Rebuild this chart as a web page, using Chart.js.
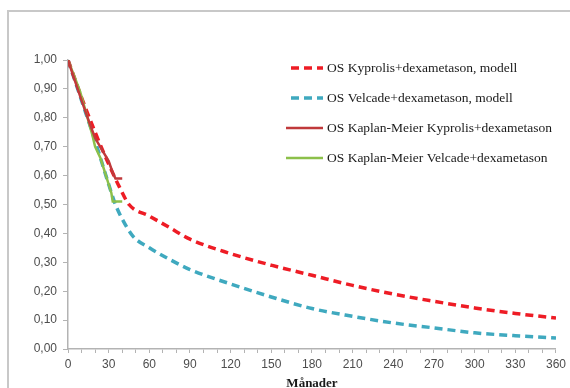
<!DOCTYPE html>
<html lang="sv">
<head>
  <meta charset="UTF-8" />
  <title>OS modell vs Kaplan-Meier</title>
  <script src="https://cdn.jsdelivr.net/npm/chart.js"></script>
  <style>
    body { margin: 0; background: #fff; }
    .chart-container { position: relative; width: 570px; height: 388px; }
  </style>
</head>
<body>
  <div class="chart-container">
    <canvas id="osChart"></canvas>
  </div>

  <script>
    // Months (x) and survival (y)
    const kyprolisModelMonths = [0, 10, 20, 30, 38, 45, 60, 75, 90, 120, 150, 180, 210, 240, 270, 300, 330, 360];
    const kyprolisModel = [1.00, 0.87, 0.75, 0.64, 0.56, 0.50, 0.46, 0.42, 0.38, 0.33, 0.29, 0.255, 0.22, 0.19, 0.165, 0.142, 0.123, 0.107];

    const velcadeModelMonths = [0, 10, 20, 30, 35, 40, 48, 60, 75, 90, 120, 150, 180, 210, 240, 270, 300, 330, 360];
    const velcadeModel = [1.00, 0.86, 0.72, 0.57, 0.50, 0.45, 0.39, 0.35, 0.31, 0.275, 0.225, 0.18, 0.14, 0.113, 0.09, 0.073, 0.056, 0.046, 0.038];

    const kyprolisKMMonths = [0, 5, 10, 16, 20, 25, 30, 33, 35, 40];
    const kyprolisKM = [1.00, 0.93, 0.86, 0.78, 0.73, 0.69, 0.65, 0.61, 0.59, 0.59];

    const velcadeKMMonths = [0, 5, 9, 12, 15, 18, 20, 24, 28, 32, 33, 40];
    const velcadeKM = [1.00, 0.94, 0.89, 0.84, 0.79, 0.74, 0.70, 0.66, 0.60, 0.54, 0.51, 0.51];

    const seriesLabels = [
      'OS Kyprolis+dexametason, modell',
      'OS Velcade+dexametason, modell',
      'OS Kaplan-Meier Kyprolis+dexametason',
      'OS Kaplan-Meier Velcade+dexametason'
    ];
    const xTicksStep = 30;
    const yTicksStep = 0.1;

    function toPoints(xs, ys) {
      return xs.map((x, i) => ({ x: x, y: ys[i] }));
    }

    // grey frame + legend drawn on the canvas
    const framePlugin = {
      id: 'frame',
      beforeDraw(chart) {
        const ctx = chart.ctx;
        ctx.save();
        ctx.strokeStyle = '#c8c8c8';
        ctx.lineWidth = 2;
        ctx.beginPath();
        ctx.moveTo(8, chart.height);
        ctx.lineTo(8, 11);
        ctx.lineTo(chart.width, 11);
        ctx.stroke();
        ctx.restore();
      },
      afterDraw(chart) {
        const ctx = chart.ctx;
        ctx.save();
        ctx.font = '13.5px "Liberation Serif"';
        ctx.fillStyle = '#1a1a1a';
        ctx.textBaseline = 'middle';
        chart.data.datasets.forEach((ds, i) => {
          const y = 68 + i * 30;
          ctx.strokeStyle = ds.borderColor;
          ctx.lineWidth = ds.borderWidth;
          ctx.setLineDash(ds.borderDash || []);
          ctx.beginPath();
          ctx.moveTo(i < 2 ? 291 : 286, y);
          ctx.lineTo(323, y);
          ctx.stroke();
          ctx.setLineDash([]);
          ctx.fillText(ds.label, 327, y);
        });
        ctx.restore();
      }
    };

    const ctx = document.getElementById('osChart').getContext('2d');
    new Chart(ctx, {
      type: 'line',
      data: {
        datasets: [
          {
            label: seriesLabels[0],
            data: toPoints(kyprolisModelMonths, kyprolisModel),
            borderColor: '#ee1c25',
            borderWidth: 3.5,
            borderDash: [8, 5],
            cubicInterpolationMode: 'monotone',
            pointRadius: 0,
            order: 3
          },
          {
            label: seriesLabels[1],
            data: toPoints(velcadeModelMonths, velcadeModel),
            borderColor: '#3fa9bf',
            borderWidth: 3.5,
            borderDash: [8, 5],
            cubicInterpolationMode: 'monotone',
            pointRadius: 0,
            order: 4
          },
          {
            label: seriesLabels[2],
            data: toPoints(kyprolisKMMonths, kyprolisKM),
            borderColor: '#c0393b',
            borderWidth: 2.5,
            pointRadius: 0,
            order: 1
          },
          {
            label: seriesLabels[3],
            data: toPoints(velcadeKMMonths, velcadeKM),
            borderColor: '#8cc04a',
            borderWidth: 2.5,
            pointRadius: 0,
            order: 2
          }
        ]
      },
      options: {
        responsive: true,
        maintainAspectRatio: false,
        animation: false,
        layout: { padding: { left: 0, top: 60, right: 13, bottom: 0 } },
        plugins: { legend: { display: false }, tooltip: { enabled: false } },
        scales: {
          x: {
            type: 'linear',
            min: 0,
            max: 360,
            afterFit(scale) { scale.height = 39; },
            border: { color: '#b3b3b3', width: 1.5 },
            grid: { drawOnChartArea: false, drawTicks: true, tickLength: 4, color: '#b3b3b3' },
            ticks: {
              stepSize: 10,
              autoSkip: false,
              maxRotation: 0,
              padding: 4,
              color: '#4d4d4d',
              font: { family: 'Liberation Sans', size: 12 },
              callback: v => (v % xTicksStep === 0 ? String(v) : '')
            },
            title: {
              display: true,
              text: 'Månader',
              color: '#1a1a1a',
              padding: { top: 0, bottom: -3 },
              font: { family: 'Liberation Serif', size: 13, weight: 'bold' }
            }
          },
          y: {
            min: 0,
            max: 1,
            afterFit(scale) { scale.width = 68; },
            border: { color: '#b3b3b3', width: 1.5 },
            grid: { drawOnChartArea: false, drawTicks: true, tickLength: 5, color: '#b3b3b3' },
            ticks: {
              stepSize: yTicksStep,
              padding: 6,
              color: '#4d4d4d',
              font: { family: 'Liberation Sans', size: 12 },
              callback: v => v.toFixed(2).replace('.', ',')
            }
          }
        }
      },
      plugins: [framePlugin]
    });
  </script>
</body>
</html>
